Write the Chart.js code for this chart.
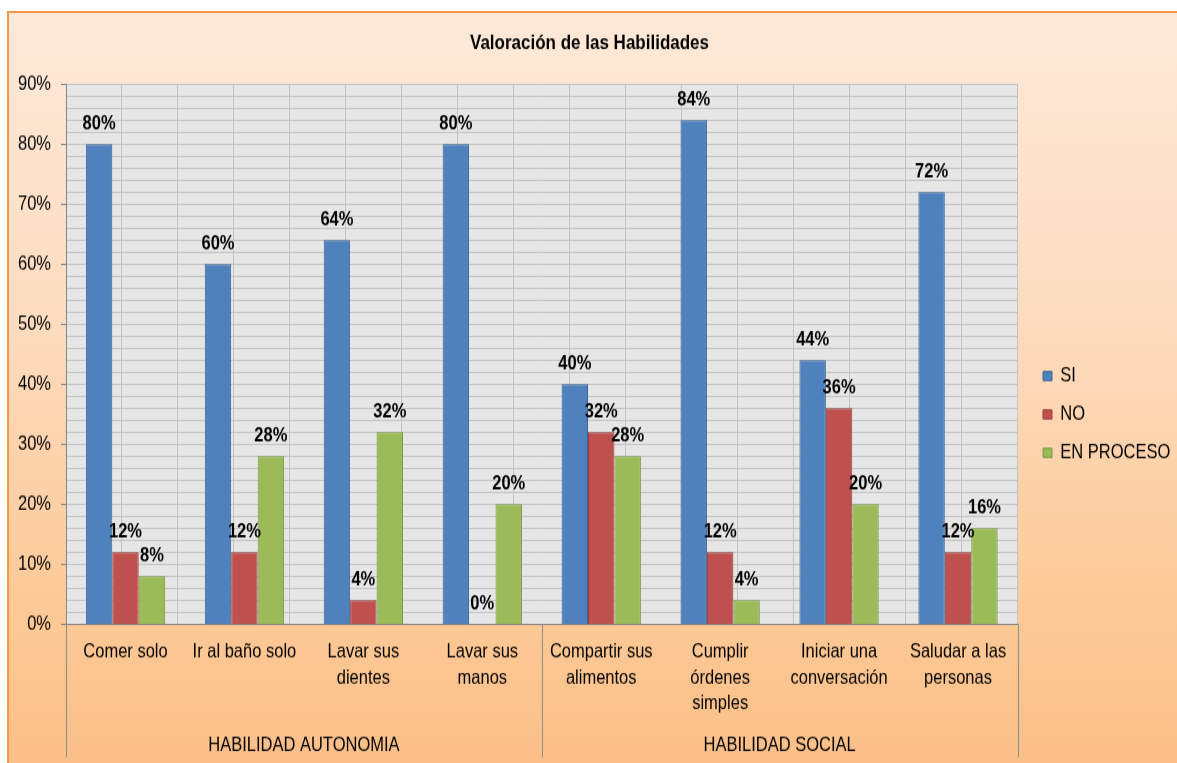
<!DOCTYPE html>
<html>
<head>
<meta charset="utf-8">
<script src="https://cdn.jsdelivr.net/npm/chart.js@4.4.1/dist/chart.umd.min.js"></script>
<style>
  html, body { margin: 0; padding: 0; background: #fff; }
  #wrap {
    position: absolute; left: 7px; top: 11px; width: 1170px; height: 752px;
    border-top: 2px solid #f79646; border-left: 2px solid #f79646;
    background: linear-gradient(#fde9d9 0%, #fddcc0 40%, #fcc996 80%, #fbbf88 100%);
    overflow: hidden;
  }
  /* la imagen original esta estirada en vertical, se imita con scaleY */
  #chart { display: block; transform: scaleY(1.2); transform-origin: 0 0; }
</style>
</head>
<body>
<div id="wrap"><canvas id="chart" width="1168" height="625"></canvas></div>
<script>
  const FONT = "'Liberation Sans', Arial, sans-serif";

  // datos
  const categorias = [
    'Comer solo', 'Ir al baño solo', ['Lavar sus', 'dientes'], ['Lavar sus', 'manos'],
    ['Compartir sus', 'alimentos'], ['Cumplir', 'órdenes', 'simples'],
    ['Iniciar una', 'conversación'], ['Saludar a las', 'personas']
  ];
  const grupos = ['HABILIDAD AUTONOMIA', 'HABILIDAD SOCIAL'];
  const grupoTamanos = [4, 4];
  const si = [80, 60, 64, 80, 40, 84, 44, 72];
  const no = [12, 12, 4, 0, 32, 12, 36, 12];
  const enProceso = [8, 28, 32, 20, 28, 4, 20, 16];
  const yTicks = [0, 10, 20, 30, 40, 50, 60, 70, 80, 90];

  Chart.defaults.font.family = FONT;
  Chart.defaults.font.size = 16.5;
  Chart.defaults.color = '#000';

  const fondoPlot = {
    id: 'fondoPlot',
    beforeDraw(chart) {
      const a = chart.chartArea, ctx = chart.ctx;
      ctx.save();
      ctx.fillStyle = '#e6e6e6';
      ctx.fillRect(a.left, a.top, a.right - a.left, a.bottom - a.top);
      ctx.restore();
    }
  };

  const etiquetas = {
    id: 'etiquetas',
    afterDatasetsDraw(chart) {
      const ctx = chart.ctx;
      ctx.save();
      ctx.font = 'bold 16.5px ' + FONT;
      ctx.fillStyle = '#000';
      ctx.textAlign = 'center';
      ctx.textBaseline = 'alphabetic';
      chart.data.datasets.forEach((ds, i) => {
        chart.getDatasetMeta(i).data.forEach((bar, j) => {
          ctx.fillText(ds.data[j] + '%', bar.x, bar.y - 12);
        });
      });
      ctx.restore();
    }
  };

  const gruposEje = {
    id: 'gruposEje',
    afterDraw(chart) {
      const x = chart.scales.x, ctx = chart.ctx;
      const half = (x.getPixelForValue(1) - x.getPixelForValue(0)) / 2;
      ctx.save();
      ctx.strokeStyle = '#8c8c8c';
      ctx.lineWidth = 1;
      ctx.font = '16.5px ' + FONT;
      ctx.fillStyle = '#000';
      ctx.textAlign = 'center';
      ctx.textBaseline = 'middle';
      let ini = 0;
      const linea = px => {
        ctx.beginPath();
        ctx.moveTo(Math.round(px) + 0.5, x.top);
        ctx.lineTo(Math.round(px) + 0.5, x.bottom - 5);
        ctx.stroke();
      };
      grupos.forEach((g, k) => {
        const fin = ini + grupoTamanos[k] - 1;
        const l = x.getPixelForValue(ini) - half;
        const r = x.getPixelForValue(fin) + half;
        linea(l);
        if (k === grupos.length - 1) linea(r);
        ctx.fillText(g, (l + r) / 2, x.bottom - 15);
        ini = fin + 1;
      });
      ctx.restore();
    }
  };

  new Chart(document.getElementById('chart'), {
    type: 'bar',
    data: {
      labels: categorias,
      datasets: [
        { label: 'SI', data: si, backgroundColor: '#4f81bd', borderColor: '#3a6396', borderWidth: 1 },
        { label: 'NO', data: no, backgroundColor: '#c0504d', borderColor: '#94403d', borderWidth: 1 },
        { label: 'EN PROCESO', data: enProceso, backgroundColor: '#9bbb59', borderColor: '#7a9a44', borderWidth: 1 }
      ]
    },
    options: {
      responsive: false,
      animation: false,
      datasets: { bar: { categoryPercentage: 0.667, barPercentage: 1 } },
      layout: { padding: { left: -1, right: 6, top: 0, bottom: 0 } },
      plugins: {
        title: {
          display: true,
          text: 'Valoración de las Habilidades',
          font: { size: 17, weight: 'bold' },
          padding: { top: 14.8, bottom: 24 }
        },
        legend: {
          position: 'right',
          maxWidth: 143.5,
          title: { display: true, text: ' ', font: { size: 8 }, padding: { top: 34.4, bottom: 0 } },
          labels: { boxWidth: 9, boxHeight: 7.5, padding: 15.5, font: { size: 16.5 } }
        },
        tooltip: { enabled: false }
      },
      scales: {
        x: {
          grid: { display: false, drawTicks: false },
          border: { color: '#868686' },
          ticks: { padding: 12.45, maxRotation: 0, autoSkip: false, font: { size: 16.5, lineHeight: 1.315 } },
          afterFit(s) { s.height = 115.8; }
        },
        xg: {
          type: 'linear', position: 'top', min: 0, max: 16,
          ticks: { display: false, stepSize: 1, autoSkip: false },
          grid: { color: '#c4c4c4', drawTicks: false },
          border: { display: false }
        },
        margen: {
          type: 'linear', position: 'right',
          ticks: { display: false },
          grid: { display: false, drawTicks: false },
          border: { display: false },
          afterFit(s) { s.width = 10; }
        },
        y: {
          min: 0, max: 90,
          afterBuildTicks(s) { s.ticks = Array.from({ length: 46 }, (_, i) => ({ value: i * 2 })); },
          ticks: {
            autoSkip: false, padding: 10,
            callback: v => yTicks.includes(v) ? v + '%' : ''
          },
          grid: {
            color: '#c4c4c4', tickLength: 5,
            tickColor: c => yTicks.includes(c.tick.value) ? '#868686' : 'rgba(0,0,0,0)'
          },
          border: { color: '#868686' }
        }
      }
    },
    plugins: [fondoPlot, etiquetas, gruposEje]
  });
</script>
</body>
</html>
